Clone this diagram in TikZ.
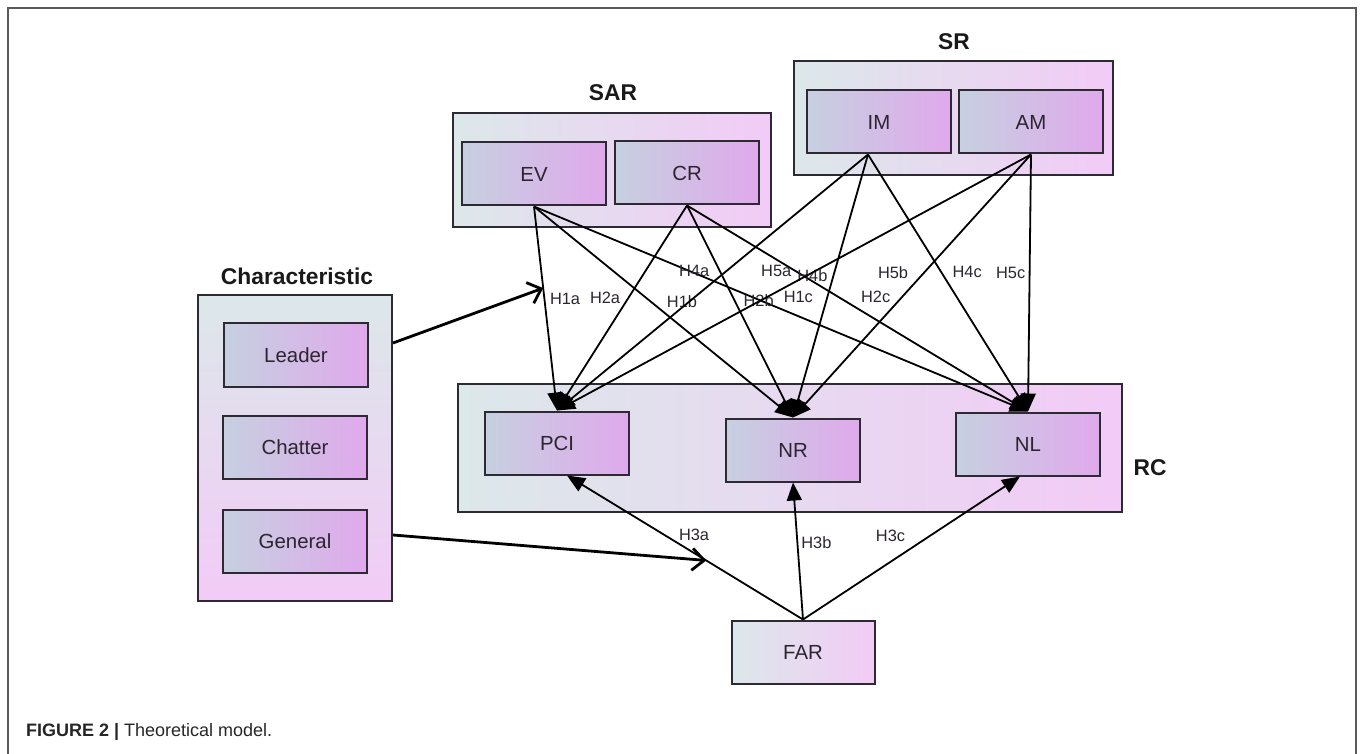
\documentclass[tikz,border=0pt]{standalone}
\usepackage{fontspec}
\setmainfont{Liberation Sans}
\usepackage{xcolor}
\usepackage{tikz}
\usetikzlibrary{positioning, arrows.meta}

\definecolor{boxline}{HTML}{2E2A33}
\definecolor{outerleft}{HTML}{DCE8EA}
\definecolor{outerright}{HTML}{F2CBF6}
\definecolor{innerleft}{HTML}{C6D0E0}
\definecolor{innerright}{HTML}{E0A9EC}
\definecolor{labeltext}{HTML}{2B2530}
\definecolor{framegray}{HTML}{5A5A5A}

\begin{document}
\begin{tikzpicture}[x=0.5pt, y=-0.5pt,
        outerbox/.style={rectangle, draw=boxline, line width=1pt, left color=outerleft, right color=outerright, inner sep=0pt},
        innerbox/.style={rectangle, draw=boxline, line width=1pt, left color=innerleft, right color=innerright, text=labeltext, font=\fontsize{10.2}{12}\selectfont, minimum width=72pt, minimum height=31.5pt, inner sep=0pt},
        grouptitle/.style={font=\fontsize{11.4}{13}\selectfont\bfseries, text=black!90, inner sep=0pt},
        hyp/.style={-{Triangle[length=9pt, width=7.5pt]}, line width=0.9pt},
        hlabel/.style={font=\fontsize{8.2}{10}\selectfont, text=labeltext, inner sep=0pt},
        effect/.style={-{Straight Barb[length=6pt, width=11pt]}, line width=1.4pt}
    ]
        \useasboundingbox (0,0) rectangle (1360,754);
        \draw[framegray, line width=1pt] (8,754) -- (8,8) -- (1356,8) -- (1356,754);

        % groups
        \node[outerbox, minimum width=159pt, minimum height=57pt] (sarbox) at (612,170) {};
        \node[outerbox, minimum width=159.5pt, minimum height=57pt] (srbox) at (953,118) {};
        \node[outerbox, minimum width=97pt, minimum height=153pt, top color=outerleft, bottom color=outerright] (charbox) at (295,448) {};
        \node[outerbox, minimum width=332pt, minimum height=64pt] (rcbox) at (790,448) {};

        \node[grouptitle] (sartitle) at (613,93) {SAR};
        \node[grouptitle] (srtitle) at (954,42) {SR};
        \node[grouptitle] (chartitle) at (297,276) {Characteristic};
        \node[grouptitle] (rctitle) at (1150,468) {RC};

        % variables
        \node[innerbox] (ev) at (534,174) {EV};
        \node[innerbox] (cr) at (687,173) {CR};
        \node[innerbox] (im) at (879,122) {IM};
        \node[innerbox] (am) at (1031,122) {AM};
        \node[innerbox] (leader) at (296,355) {Leader};
        \node[innerbox] (chatter) at (295,447) {Chatter};
        \node[innerbox] (general) at (295,541) {General};
        \node[innerbox] (pci) at (557,443) {PCI};
        \node[innerbox, minimum width=67pt] (nr) at (793,450) {NR};
        \node[innerbox] (nl) at (1028,444) {NL};
        \node[outerbox, text=labeltext, font=\fontsize{10.2}{12}\selectfont, minimum width=71.5pt, minimum height=31.5pt] (far) at (803,652) {FAR};

        % hypotheses
        \draw[hyp] (ev.south) -- node[hlabel, pos=0.454, xshift=10.3pt] {H1a} coordinate[pos=0.40] (h1apoint) (pci.north);
        \draw[hyp] (ev.south) -- node[hlabel, pos=0.451, xshift=15.6pt] {H1b} (nr.north);
        \draw[hyp] (ev.south) -- node[hlabel, pos=0.44, xshift=23.5pt] {H1c} (nl.north);
        \draw[hyp] (cr.south) -- node[hlabel, pos=0.452, xshift=-11.6pt] {H2a} (pci.north);
        \draw[hyp] (cr.south) -- node[hlabel, pos=0.449, xshift=12pt] {H2b} (nr.north);
        \draw[hyp] (cr.south) -- node[hlabel, pos=0.442, xshift=19pt] {H2c} (nl.north);
        \draw[hyp] ([xshift=-5.5pt]im.south) -- node[hlabel, pos=0.453, xshift=-16.5pt] {H4a} (pci.north);
        \draw[hyp] ([xshift=-5.5pt]im.south) -- node[hlabel, pos=0.462, xshift=-10.5pt] {H4b} (nr.north);
        \draw[hyp] ([xshift=-5.5pt]im.south) -- node[hlabel, pos=0.457, xshift=13pt] {H4c} (nl.north);
        \draw[hyp] (am.south) -- node[hlabel, pos=0.453, xshift=-20pt] {H5a} (pci.north);
        \draw[hyp] (am.south) -- node[hlabel, pos=0.451, xshift=-15.3pt] {H5b} (nr.north);
        \draw[hyp] (am.south) -- node[hlabel, pos=0.461, xshift=-9.5pt] {H5c} (nl.north);
        \draw[hyp] (far.north) -- node[hlabel, pos=0.587, xshift=14.8pt] {H3a} coordinate[pos=0.41] (h3apoint) ([xshift=5pt]pci.south);
        \draw[hyp] (far.north) -- node[hlabel, pos=0.558, xshift=9.5pt] {H3b} (nr.south);
        \draw[hyp] (far.north) -- node[hlabel, pos=0.583, xshift=-19.5pt] {H3c} ([xshift=-4pt]nl.south);

        % moderating effects
        \path (charbox.east |- leader.east) ++(0,-12) coordinate (leaderout);
        \path (charbox.east |- general.east) ++(0,-6) coordinate (generalout);
        \draw[effect] (leaderout) -- (h1apoint);
        \draw[effect] (generalout) -- (h3apoint);

        \node[anchor=west, font=\fontsize{9}{11}\selectfont, text=black!85] (caption) at (19,732) {\textbf{FIGURE 2 |} Theoretical model.};
    \end{tikzpicture}
\end{document}
